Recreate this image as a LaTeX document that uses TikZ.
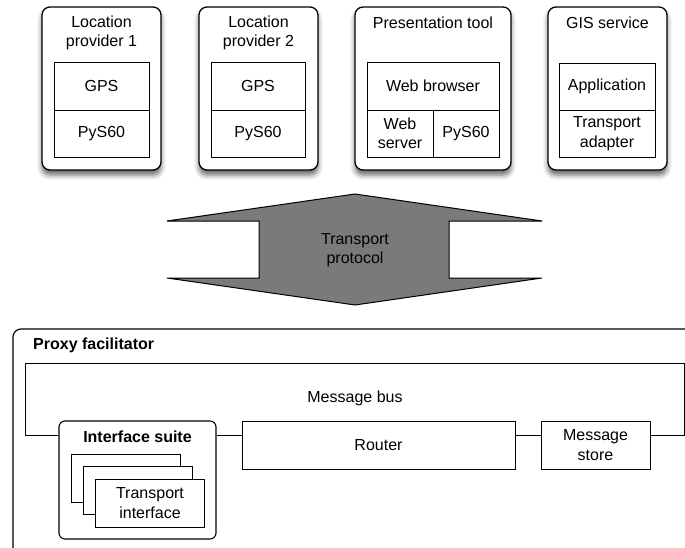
\documentclass[tikz,border=0pt]{standalone}
\usepackage{fontspec}
\setmainfont{Liberation Sans}
\usetikzlibrary{shadows.blur}
\begin{document}
\begin{tikzpicture}[x=1pt,y=-1pt,
  every node/.style={font=\fontsize{16}{19.5}\selectfont, align=center, inner sep=0pt},
  device/.style={draw, line width=1.3pt, rounded corners=8pt, fill=white,
    blur shadow={shadow xshift=0pt, shadow yshift=-5pt, shadow blur radius=5pt, shadow opacity=60}},
  layer/.style={draw, line width=0.9pt, fill=white},
  frame/.style={draw, line width=1.2pt, rounded corners=8pt, fill=white},
  bus/.style={draw, line width=0.9pt},
  heading/.style={font=\fontsize{16}{19.5}\selectfont\bfseries}
]
\useasboundingbox (0,0) rectangle (685,548);

% ---- devices on top ----
\node[device, minimum width=119pt, minimum height=163pt] (lp1) at (101.5,88.5) {};
\node (lp1t) at (101.5,33) {Location\\provider 1};
\node[layer, minimum width=95pt, minimum height=48pt] (lp1gps) at (101.5,86) {GPS};
\node[layer, minimum width=95pt, minimum height=47pt] (lp1py) at (101.5,133.5) {PyS60};

\node[device, minimum width=119pt, minimum height=163pt] (lp2) at (258.5,88.5) {};
\node (lp2t) at (258.5,33) {Location\\provider 2};
\node[layer, minimum width=94pt, minimum height=48pt] (lp2gps) at (258,86) {GPS};
\node[layer, minimum width=94pt, minimum height=47pt] (lp2py) at (258,133.5) {PyS60};

\node[device, minimum width=156pt, minimum height=163pt] (pt) at (433,88.5) {};
\node (ptt) at (433,23) {Presentation tool};
\node[layer, minimum width=132pt, minimum height=48pt] (ptweb) at (433,86) {Web browser};
\node[layer, minimum width=66pt, minimum height=47pt] (ptsrv) at (400,133.5) {Web\\server};
\node[layer, minimum width=66pt, minimum height=47pt] (ptpy) at (466,133.5) {PyS60};

\node[device, minimum width=119pt, minimum height=163pt] (gis) at (607.5,88.5) {};
\node (gist) at (607.5,23) {GIS service};
\node[layer, minimum width=96pt, minimum height=47pt] (gisapp) at (607,86.5) {Application};
\node[layer, minimum width=96pt, minimum height=47pt] (gisad) at (607,133.5) {Transport\\adapter};

% ---- transport protocol double arrow ----
\draw[line width=1pt, fill=black!52]
  (355,194) -- (542,221) -- (449,221) -- (449,278) -- (542,278) -- (355,305)
  -- (167,278) -- (259,278) -- (259,221) -- (167,221) -- cycle;
\node (tp) at (355,250) {Transport\\protocol};

% ---- proxy facilitator ----
\draw[frame] (13,570) -- (13,329) -- (710,329);
\node[heading, anchor=west] (pf) at (33,345) {Proxy facilitator};

\node (msgbus) at (355,398) {Message bus};

\node[frame, rounded corners=6pt, line width=1.1pt, minimum width=157pt, minimum height=118pt] (suite) at (137.5,480) {};
\node[heading] (suitet) at (137.5,437) {Interface suite};
\node[layer, minimum width=109pt, minimum height=48pt] (ti1) at (125.5,478.5) {};
\node[layer, minimum width=109pt, minimum height=48pt] (ti2) at (137.5,490.5) {};
\node[layer, minimum width=109pt, minimum height=48pt] (ti3) at (150,503) {Transport\\interface};

\node[layer, minimum width=273pt, minimum height=48pt] (router) at (378.5,445) {Router};
\node[layer, minimum width=109pt, minimum height=48pt] (store) at (595.5,445) {Message\\store};

\coordinate (busy) at (0,435);
\coordinate (busR) at (684,435);
\coordinate (busTR) at (684,363);
\coordinate (busTL) at (25,363);
\coordinate (busL) at (25,435);

\draw[bus] (store.east |- busy) -- (busR) -- (busTR) -- (busTL) -- (busL) -- (suite.west |- busy);
\draw[bus] (suite.east |- busy) -- (router.west |- busy);
\draw[bus] (router.east |- busy) -- (store.west |- busy);
\end{tikzpicture}
\end{document}
